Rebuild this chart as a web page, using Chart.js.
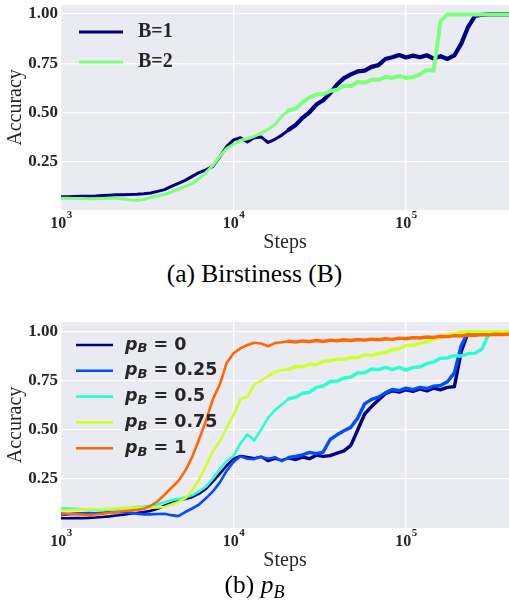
<!DOCTYPE html>
<html>
<head>
<meta charset="utf-8">
<script src="https://cdn.jsdelivr.net/npm/chart.js@4/dist/chart.umd.min.js"></script>
<style>
  html,body{margin:0;padding:0;background:#fff;}
  body{width:509px;height:605px;position:relative;overflow:hidden;}
  canvas{position:absolute;left:0;display:block;}
  #cA{top:0;}
  #cB{top:300px;}
  .cap{position:absolute;left:0;width:509px;text-align:center;font-family:"Liberation Serif","Times New Roman",serif;font-size:25.5px;line-height:28px;color:#000;z-index:2;}
  .cap i{font-style:italic;}
  .cap .sub{font-style:italic;font-size:18px;position:relative;top:5px;}
</style>
</head>
<body>
<canvas id="cA" width="509" height="258"></canvas>
<canvas id="cB" width="509" height="275"></canvas>
<div class="cap" style="top:260px">(a) Birstiness (B)</div>
<div class="cap" style="top:571px">(b) <i>p</i><span class="sub">B</span></div>
<script>
// ---------------- data ----------------
const steps = [
  1000,1096,1202,1318,1445,1585,1738,1905,2089,2291,2512,2754,3020,3311,3631,3981,4365,4786,5248,5754,6310,6918,7586,8318,9120,
  10000,10965,12023,13183,14454,15849,17378,19055,20893,22909,25119,27542,30200,33113,36308,39811,43652,47863,52481,57544,63096,69183,75858,83176,91201,
  100000,109648,120226,131826,144544,158489,173780,190546,208930,229087,251189,275423,301995,331131,363078,398107
];

// (a) burstiness
const accB1 = [
  0.074,0.074,0.075,0.076,0.077,0.078,0.080,0.082,0.084,0.084,0.085,0.086,0.089,0.093,0.101,0.110,0.126,0.142,0.157,0.177,0.196,0.210,0.228,0.276,0.328,
  0.362,0.373,0.352,0.373,0.377,0.349,0.365,0.386,0.413,0.437,0.474,0.502,0.541,0.563,0.598,0.643,0.675,0.694,0.709,0.713,0.732,0.741,0.772,0.781,0.792,
  0.780,0.789,0.781,0.791,0.774,0.786,0.772,0.790,0.850,0.935,0.990,0.996,0.998,0.998,0.998,0.998
];
const accB2 = [
  0.066,0.066,0.065,0.065,0.064,0.064,0.065,0.066,0.066,0.062,0.058,0.055,0.060,0.071,0.078,0.085,0.098,0.112,0.126,0.140,0.165,0.198,0.232,0.278,0.318,
  0.340,0.360,0.368,0.380,0.396,0.415,0.440,0.482,0.512,0.520,0.552,0.578,0.592,0.594,0.610,0.616,0.636,0.634,0.655,0.650,0.668,0.665,0.682,0.676,0.686,
  0.676,0.680,0.694,0.716,0.712,0.965,0.998,0.998,0.998,0.998,0.998,0.998,0.998,0.998,0.998,0.998
];

// (b) p_B
const accP0 = [
  0.048,0.048,0.049,0.049,0.050,0.052,0.055,0.058,0.062,0.066,0.071,0.075,0.080,0.086,0.097,0.112,0.126,0.139,0.147,0.156,0.174,0.198,0.235,0.275,0.316,
  0.352,0.366,0.360,0.354,0.362,0.340,0.352,0.344,0.356,0.348,0.360,0.352,0.370,0.364,0.368,0.380,0.392,0.420,0.500,0.580,0.618,0.652,0.684,0.698,0.692,
  0.704,0.696,0.708,0.698,0.712,0.704,0.716,0.720,0.900,0.998,1.000,1.000,1.000,1.000,1.000,1.000
];
const accP025 = [
  0.065,0.068,0.072,0.074,0.075,0.074,0.076,0.078,0.080,0.078,0.077,0.072,0.068,0.068,0.070,0.071,0.064,0.059,0.080,0.098,0.118,0.150,0.185,0.230,0.290,
  0.335,0.364,0.352,0.350,0.362,0.352,0.360,0.340,0.358,0.364,0.372,0.384,0.378,0.386,0.450,0.474,0.495,0.512,0.560,0.632,0.655,0.666,0.688,0.705,0.700,
  0.712,0.704,0.716,0.710,0.722,0.726,0.745,0.790,0.930,0.998,1.000,1.000,1.000,1.000,1.000,1.000
];
const accP05 = [
  0.099,0.098,0.096,0.094,0.092,0.090,0.091,0.093,0.096,0.099,0.102,0.105,0.108,0.112,0.120,0.130,0.140,0.147,0.155,0.165,0.185,0.210,0.250,0.300,0.340,
  0.366,0.430,0.476,0.446,0.500,0.560,0.600,0.628,0.658,0.666,0.686,0.690,0.716,0.722,0.746,0.748,0.764,0.768,0.790,0.790,0.810,0.806,0.818,0.806,0.818,
  0.804,0.818,0.820,0.837,0.846,0.864,0.866,0.878,0.876,0.888,0.890,0.912,0.990,1.000,1.000,1.000
];
const accP075 = [
  0.087,0.089,0.091,0.092,0.093,0.094,0.095,0.097,0.099,0.101,0.102,0.102,0.102,0.102,0.103,0.106,0.118,0.132,0.150,0.190,0.245,0.315,0.390,0.440,0.510,
  0.575,0.655,0.668,0.730,0.750,0.774,0.794,0.805,0.808,0.823,0.822,0.834,0.832,0.849,0.852,0.860,0.858,0.869,0.868,0.882,0.878,0.889,0.893,0.908,0.914,
  0.930,0.930,0.942,0.948,0.962,0.970,0.983,0.990,0.997,1.000,1.000,1.000,1.000,1.000,1.000,1.000
];
const accP1 = [
  0.073,0.071,0.069,0.067,0.065,0.067,0.071,0.076,0.080,0.084,0.088,0.091,0.096,0.112,0.135,0.168,0.204,0.238,0.290,0.360,0.450,0.545,0.655,0.730,0.840,
  0.890,0.915,0.932,0.944,0.940,0.926,0.942,0.946,0.951,0.947,0.953,0.949,0.955,0.950,0.957,0.953,0.959,0.955,0.960,0.957,0.962,0.959,0.964,0.961,0.967,
  0.964,0.970,0.968,0.973,0.971,0.977,0.975,0.980,0.978,0.983,0.981,0.985,0.984,0.987,0.986,0.988
];

const xTicks = [1000, 10000, 100000];
const yTicks = [0.25, 0.50, 0.75, 1.00];
const labelsA = ['B=1', 'B=2'];
const pBValues = ['0', '0.25', '0.5', '0.75', '1'];
const colorsA = ['#000080', '#7dff7a'];
const colorsB = ['#000080', '#004dff', '#29ffce', '#ceff29', '#ff6800'];

// ---------------- drawing ----------------
const TEXT = '#262626';
const SERIF = '"Liberation Serif","Times New Roman",serif';
const SANS = '"DejaVu Sans",sans-serif';

function pts(ys){ return steps.map((s,i)=>({x:s, y:ys[i]})); }

const decor = {
  id: 'decor',
  beforeDraw(chart){
    const {ctx, chartArea:a} = chart;
    ctx.save();
    ctx.fillStyle = '#EAEAF2';
    ctx.fillRect(a.left, a.top, a.right-a.left, a.bottom-a.top);
    ctx.restore();
  },
  afterDraw(chart, args, o){
    const ctx = chart.ctx, a = chart.chartArea, xs = chart.scales.x;
    ctx.save();
    ctx.fillStyle = TEXT;
    ctx.textBaseline = 'alphabetic';
    // x tick labels 10^n
    xTicks.forEach(v=>{
      const px = xs.getPixelForValue(v);
      const exp = String(Math.round(Math.log10(v)));
      ctx.font = 'bold 16px ' + SERIF; const w1 = ctx.measureText('10').width;
      ctx.font = 'bold 11px ' + SERIF; const w2 = ctx.measureText(exp).width;
      const x0 = px - (w1 + w2)/2;
      ctx.textAlign = 'left';
      ctx.font = 'bold 16px ' + SERIF; ctx.fillText('10', x0, a.bottom + 18.3);
      ctx.font = 'bold 11px ' + SERIF; ctx.fillText(exp, x0 + w1 + 0.5, a.bottom + 7.5);
    });
    // axis titles
    ctx.font = '20px ' + SERIF;
    ctx.textAlign = 'center';
    ctx.fillText('Steps', (a.left + a.right)/2, a.bottom + 38);
    ctx.save();
    ctx.translate(20.5, (a.top + a.bottom)/2);
    ctx.rotate(-Math.PI/2);
    ctx.fillText('Accuracy', 0, 0);
    ctx.restore();
    // legend
    const ds = chart.data.datasets;
    ctx.textAlign = 'left';
    ctx.textBaseline = 'middle';
    ds.forEach((d, i)=>{
      const y = o.y0 + i*o.dy;
      ctx.strokeStyle = d.borderColor;
      ctx.lineWidth = o.lw;
      ctx.beginPath(); ctx.moveTo(o.x0, y); ctx.lineTo(o.x1, y); ctx.stroke();
      ctx.fillStyle = TEXT;
      if (o.math) {
        const val = d.label.split(' = ')[1];
        let x = o.tx;
        ctx.font = 'italic bold 17.5px ' + SANS; ctx.fillText('p', x, y); x += ctx.measureText('p').width;
        ctx.font = 'italic bold 13px ' + SANS; ctx.fillText('B', x, y + 4); x += ctx.measureText('B').width;
        ctx.font = 'bold 17.5px ' + SANS; ctx.fillText(' = ' + val, x, y);
      } else {
        ctx.font = 'bold 20px ' + SERIF; ctx.fillText(d.label, o.tx, y);
      }
    });
    ctx.restore();
  }
};

function build(id, H, top, bottom, yMin, yMax, datasets, legendOpts){
  const grid = {color:'#ffffff', lineWidth:1.3, drawTicks:false};
  return new Chart(document.getElementById(id), {
    type: 'line',
    data: {datasets},
    options: {
      responsive: false, animation: false, devicePixelRatio: 1,
      layout: {padding: {top: top, left: 0, right: 0, bottom: 0}},
      elements: {point: {radius: 0}, line: {tension: 0, borderJoinStyle: 'round', borderCapStyle: 'round'}},
      plugins: {legend: {display: false}, tooltip: {enabled: false}, decor: legendOpts},
      scales: {
        x: {
          type: 'logarithmic', min: 1000, max: 395000,
          afterBuildTicks: s => { s.ticks = xTicks.map(v => ({value: v})); },
          afterFit: s => { s.height = H - bottom; s.paddingLeft = 0; s.paddingRight = 0; },
          ticks: {display: false},
          grid: grid, border: {display: false}
        },
        y: {
          type: 'linear', min: yMin, max: yMax,
          afterBuildTicks: s => { s.ticks = yTicks.map(v => ({value: v})); },
          afterFit: s => { s.width = 61; s.paddingTop = 0; s.paddingBottom = 0; },
          ticks: {color: TEXT, padding: 3, font: {family: SERIF, size: 17, weight: 'bold'}, callback: v => Number(v).toFixed(2)},
          grid: grid, border: {display: false}
        }
      }
    },
    plugins: [decor]
  });
}

// thicker (noisier-looking) stroke where the training curves become noisy
function noisySeg(from, w){
  return {borderWidth: c => (c.p0.parsed.x >= from ? w : undefined)};
}

build('cA', 258, 5, 210, 0.0067, 1.0456, [
  {label: labelsA[0], data: pts(accB1), borderColor: colorsA[0], borderWidth: 3, order: 2, segment: noisySeg(20000, 4.2)},
  {label: labelsA[1], data: pts(accB2), borderColor: colorsA[1], borderWidth: 3, order: 1, segment: noisySeg(20000, 4)}
], {x0: 79, x1: 123, tx: 138, y0: 32, dy: 30, lw: 3, math: false});

const seriesB = [accP0, accP025, accP05, accP075, accP1];
build('cB', 275, 22, 228, -0.0015, 1.0495, seriesB.map((ys, i) => ({
  label: 'p_B = ' + pBValues[i], data: pts(ys), borderColor: colorsB[i], borderWidth: 2.6, order: 5 - i,
  segment: noisySeg(20000, 3.4)
})), {x0: 76, x1: 113, tx: 125, y0: 45, dy: 25.8, lw: 2.6, math: true});
</script>
</body>
</html>
